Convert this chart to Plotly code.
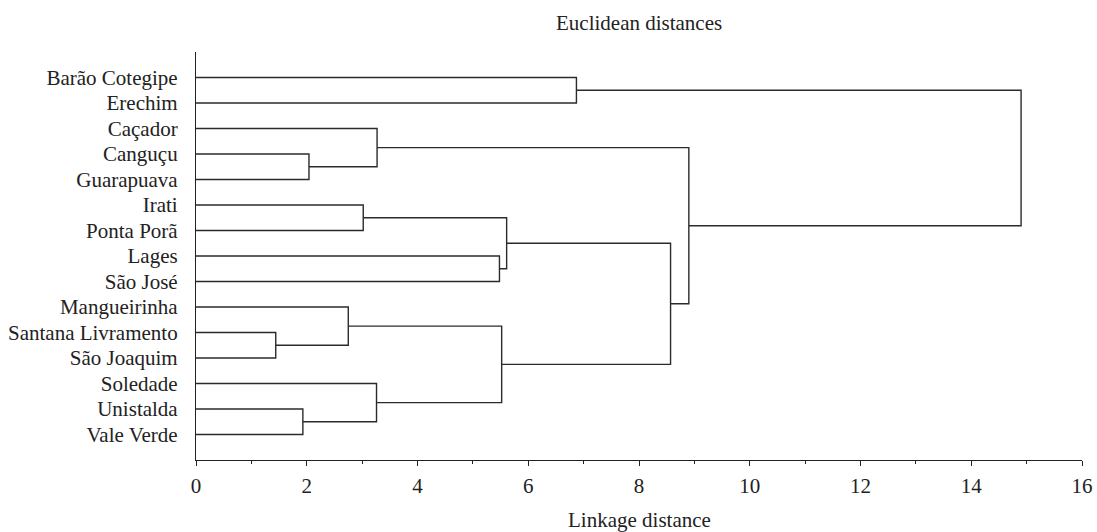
import plotly.graph_objects as go

# Leaves, top to bottom
labels = ["Barão Cotegipe", "Erechim", "Caçador", "Canguçu", "Guarapuava",
          "Irati", "Ponta Porã", "Lages", "São José", "Mangueirinha",
          "Santana Livramento", "São Joaquim", "Soledade", "Unistalda", "Vale Verde"]

# Merges: new cluster ids start at len(labels) (=15)
merge_left = [3, 2, 5, 7, 17, 10, 9, 13, 12, 21, 19, 16, 0, 27]
merge_right = [4, 15, 6, 8, 18, 11, 20, 14, 22, 23, 24, 25, 1, 26]
merge_height = [2.04, 3.27, 3.02, 5.48, 5.61, 1.44, 2.75, 1.93, 3.26, 5.52, 8.57, 8.90, 6.87, 14.9]

x_ticks = [0, 2, 4, 6, 8, 10, 12, 14, 16]

# node positions
pos_x = {i: 0.0 for i in range(len(labels))}
pos_y = {i: float(i) for i in range(len(labels))}
xs, ys = [], []
for k, (a, b, h) in enumerate(zip(merge_left, merge_right, merge_height)):
    nid = len(labels) + k
    xs += [pos_x[a], h, h, pos_x[b], None]
    ys += [pos_y[a], pos_y[a], pos_y[b], pos_y[b], None]
    pos_x[nid] = h
    pos_y[nid] = (pos_y[a] + pos_y[b]) / 2

fig = go.Figure()
fig.add_trace(go.Scatter(x=xs, y=ys, mode="lines",
                         line=dict(color="#2b2b2b", width=1.4),
                         hoverinfo="skip", showlegend=False))

font_family = "Liberation Serif, Times New Roman, serif"
FS = 21
L, R, T, B = 196, 15, 52, 72
H = 532 - T - B
fig.update_layout(
    width=1097, height=532,
    margin=dict(l=L, r=R, t=T, b=B, autoexpand=False),
    paper_bgcolor="white", plot_bgcolor="white",
    font=dict(family=font_family, size=FS, color="#222"),
    xaxis=dict(range=[0, 16], tickvals=x_ticks, ticktext=[str(v) for v in x_ticks],
               showgrid=False, zeroline=False, showline=True, linecolor="#222", linewidth=1.2,
               ticks="outside", ticklen=5, tickcolor="#222", tickwidth=1.2,
               minor=dict(dtick=1, ticks="outside", ticklen=3, tickcolor="#222", showgrid=False),
               automargin=False, ticklabelstandoff=2,
               tickfont=dict(size=FS)),
    yaxis=dict(range=[15, -1], tickvals=list(range(len(labels))), ticktext=labels,
               showgrid=False, zeroline=False, showline=True, linecolor="#222", linewidth=1.2,
               ticks="", ticklabelstandoff=13, automargin=False, tickfont=dict(size=FS)),
    annotations=[
        dict(text="Euclidean distances", xref="paper", yref="paper", x=0.5,
             y=(H + T - 23) / H, xanchor="center", yanchor="middle", showarrow=False,
             font=dict(family=font_family, size=FS, color="#222")),
        dict(text="Linkage distance", xref="paper", yref="paper", x=0.5,
             y=-(520 - (T + H)) / H, xanchor="center", yanchor="middle", showarrow=False,
             font=dict(family=font_family, size=FS, color="#222")),
    ],
)

fig.write_html("out.html", config={"displayModeBar": False},
               post_script="document.body.style.margin='0';document.body.style.padding='0';")
